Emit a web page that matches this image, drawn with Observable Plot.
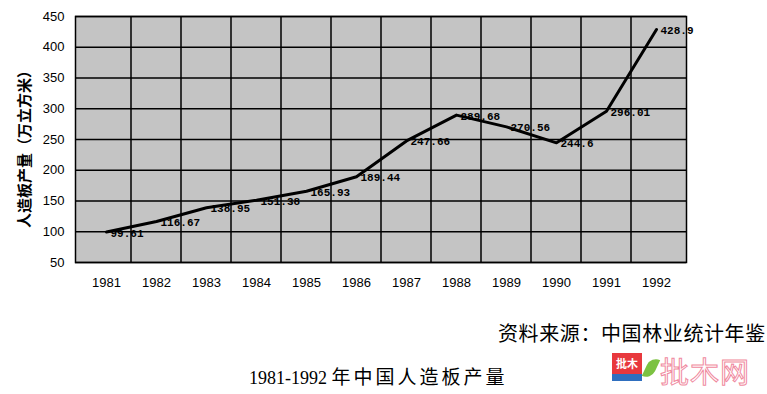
<!DOCTYPE html>
<html><head><meta charset="utf-8">
<script src="https://cdn.jsdelivr.net/npm/d3@7"></script>
<script src="https://cdn.jsdelivr.net/npm/@observablehq/plot@0.6"></script>
<style>
body{margin:0;background:#fff;width:767px;height:394px;overflow:hidden;position:relative;font-family:"Noto Sans CJK SC",sans-serif}
#chart{position:absolute;left:0;top:0}
#src{position:absolute;left:498px;top:322px;font-size:20px;line-height:22px;font-family:"Noto Sans CJK SC";color:#000;letter-spacing:0.6px;white-space:nowrap}
#title{position:absolute;left:249px;top:364px;font-size:18px;line-height:24px;font-family:"Liberation Serif";color:#000;white-space:nowrap}
#title span{font-family:"Noto Sans CJK SC";font-size:19px;letter-spacing:3px}
#logo{position:absolute;left:612px;top:353px;width:30px;height:28px;background:#e8383d;color:#fff;font-size:11px;font-weight:bold;text-align:center;line-height:20px;font-family:"Noto Sans CJK SC"}
#logo span{position:absolute;left:0;bottom:0;width:100%;height:7px;background:#2f6fbf}
#leaf{position:absolute;left:646px;top:357px;width:10px;height:22px;background:#7cc242;border-radius:10px 0 10px 0;transform:rotate(25deg)}
#wm{position:absolute;left:660px;top:355px;font-size:29px;line-height:30px;font-family:"Noto Sans CJK SC";color:#fff;-webkit-text-stroke:1px #f08aa0;letter-spacing:1px;white-space:nowrap}
</style></head><body>
<div id="chart"></div>
<div id="src">资料来源：中国林业统计年鉴</div>
<div id="title">1981-1992 <span>年中国人造板产量</span></div>
<div id="logo">批木<span></span></div>
<div id="leaf"></div>
<div id="wm">批木网</div>
<script>
const years = ["1981","1982","1983","1984","1985","1986","1987","1988","1989","1990","1991","1992"];
const output = [99.61,116.67,138.95,151.38,165.93,189.44,247.66,289.68,270.56,244.6,296.01,428.9];
const valueLabels = ["99.61","116.67","138.95","151.38","165.93","189.44","247.66","289.68","270.56","244.6","296.01","428.9"];
const yTicks = [50,100,150,200,250,300,350,400,450];
const data = years.map((y,i)=>({year:y,value:output[i],label:valueLabels[i]}));
const boundaries = years.slice(1);

const chart = Plot.plot({
  width: 767, height: 300,
  marginTop: 16, marginBottom: 38, marginLeft: 75, marginRight: 81,
  x: {type: "band", domain: years, padding: 0, label: null, tickSize: 0, tickPadding: 15},
  y: {domain: [50,450], ticks: yTicks, label: null, tickSize: 0, tickPadding: 11},
  style: {fontFamily: "Liberation Sans", fontSize: "13px", color: "#000", background: "#fff"},
  marks: [
    Plot.frame({fill: "#c4c4c4"}),
    Plot.ruleY(yTicks, {stroke: "#000", strokeWidth: 1.6}),
    Plot.tickX(boundaries, {x: d => d, y1: 50, y2: 55, dx: -25.5, stroke: "#000", strokeWidth: 1.5}),
    Plot.frame({stroke: "#000", strokeWidth: 1.5}),
    Plot.line(data, {x: "year", y: "value", stroke: "#000", strokeWidth: 3}),
    Plot.text(data, {x: "year", y: "value", text: "label", textAnchor: "start", dx: 4, dy: 1,
      fontFamily: "Liberation Mono", fontWeight: "bold", fontSize: 11, fill: "#000"}),
    Plot.text(["人造板产量（万立方米）"], {frameAnchor: "left", textAnchor: "middle", dx: -50, dy: 6, rotate: -90,
      fontFamily: "Noto Sans CJK SC", fontWeight: "bold", fontSize: 15, fill: "#000"})
  ]
});
document.getElementById("chart").appendChild(chart);
</script>
</body></html>
